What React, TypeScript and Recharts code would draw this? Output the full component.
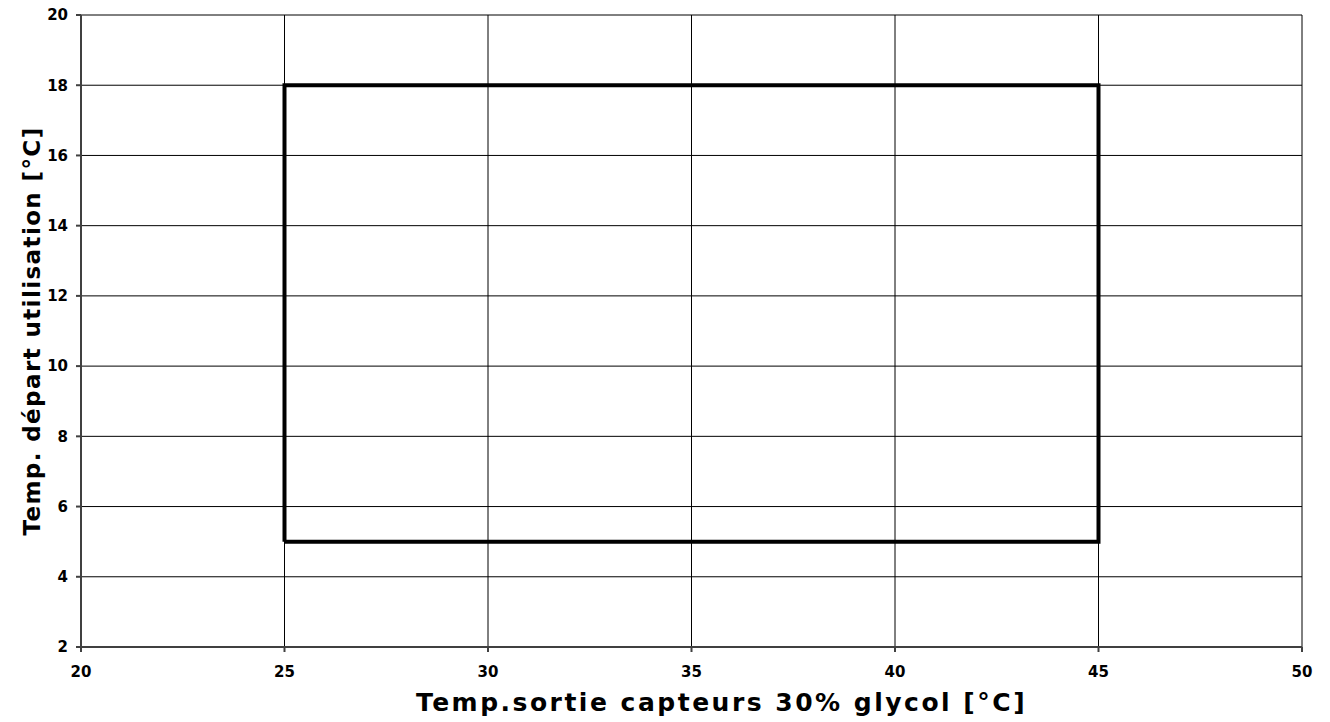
import React from 'react';
import { LineChart, Line, XAxis, YAxis, CartesianGrid, Label } from 'recharts';

// operating envelope (outlet temp of collectors vs. supply temp)
const glycolTemps = [25, 25, 45, 45, 25];
const supplyTemps = [5, 18, 18, 5, 5];
const xTicks = [20, 25, 30, 35, 40, 45, 50];
const yTicks = [2, 4, 6, 8, 10, 12, 14, 16, 18, 20];

const data = glycolTemps.map((x, i) => ({ x, y: supplyTemps[i] }));

const FONT = '"DejaVu Sans", sans-serif';

const App: React.FC = () => {
  return (
    <div style={{ position: 'absolute', left: 0, top: 0, background: '#fff' }}>
      <LineChart
        width={1330}
        height={722}
        data={data}
        margin={{ top: 15, right: 28, bottom: 45, left: 21 }}
      >
        <CartesianGrid stroke="#000" strokeWidth={1} horizontalValues={yTicks} verticalValues={xTicks} />
        <XAxis
          dataKey="x"
          type="number"
          domain={[20, 50]}
          ticks={xTicks}
          height={30}
          tickSize={5}
          tickMargin={14}
          stroke="#404040"
          strokeWidth={2}
          tick={{ fill: '#000', fontSize: 15, fontWeight: 'bold', fontFamily: FONT }}
        >
          <Label
            content={({ viewBox }: any) => (
              <text
                x={viewBox.x + viewBox.width / 2 + 30}
                y={711}
                textAnchor="middle"
                fontFamily={FONT}
                fontWeight="bold"
                fontSize={25}
                letterSpacing={2.5}
                fill="#000"
              >
                Temp.sortie capteurs 30% glycol [°C]
              </text>
            )}
          />
        </XAxis>
        <YAxis
          type="number"
          domain={[2, 20]}
          ticks={yTicks}
          width={60}
          tickSize={5}
          tickMargin={8}
          stroke="#404040"
          strokeWidth={2}
          tick={{ fill: '#000', fontSize: 15, fontWeight: 'bold', fontFamily: FONT }}
        >
          <Label
            content={({ viewBox }: any) => {
              const cy = viewBox.y + viewBox.height / 2;
              return (
                <text
                  x={40}
                  y={cy}
                  transform={`rotate(-90, 40, ${cy})`}
                  textAnchor="middle"
                  fontFamily={FONT}
                  fontWeight="bold"
                  fontSize={23}
                  letterSpacing={1.4}
                  fill="#000"
                >
                  Temp. départ utilisation [°C]
                </text>
              );
            }}
          />
        </YAxis>
        <Line
          dataKey="y"
          type="linear"
          stroke="#000"
          strokeWidth={4}
          dot={false}
          isAnimationActive={false}
        />
      </LineChart>
    </div>
  );
};

export default App;
